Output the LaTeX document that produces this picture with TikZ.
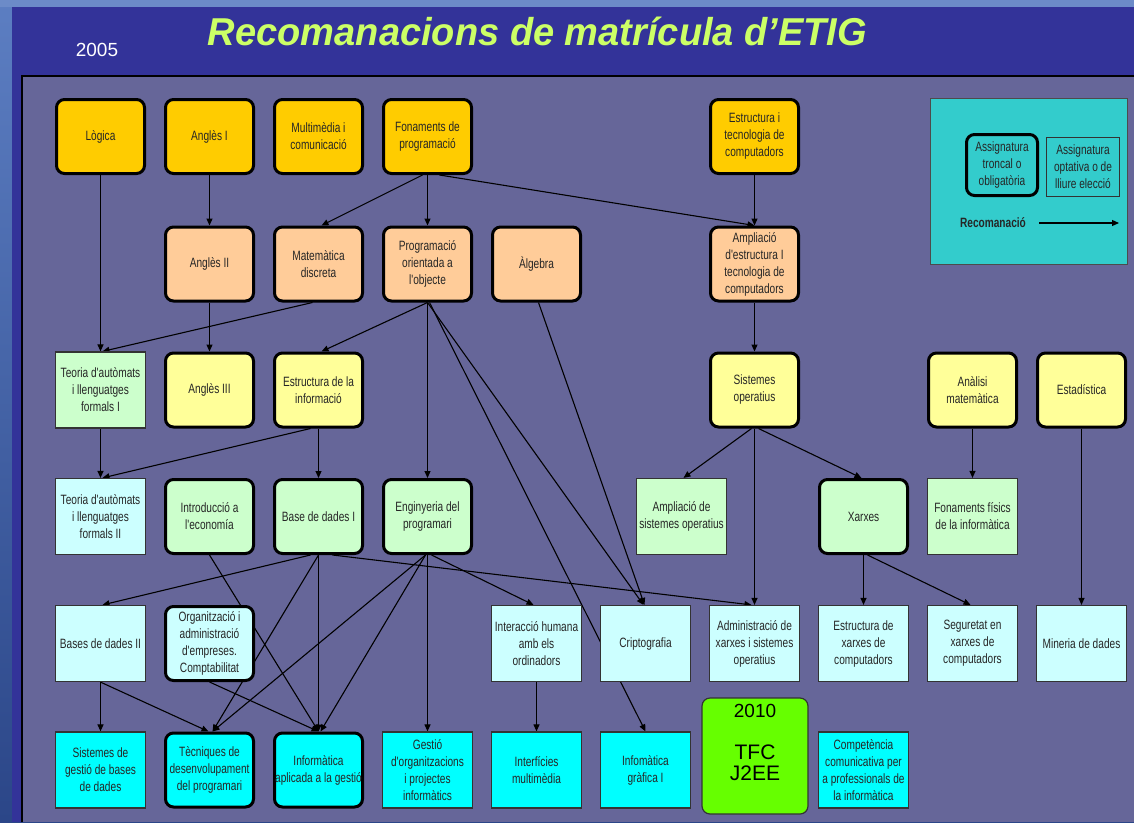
\documentclass[tikz,border=0pt]{standalone}
\usepackage{fontspec}
\setmainfont{Liberation Sans}
\newfontfamily\boxfont{Liberation Sans}[FakeStretch=0.75]
\usetikzlibrary{arrows.meta,calc}
\pgfdeclarelayer{bgfill}
\pgfdeclarelayer{edges}
\pgfsetlayers{bgfill,edges,main}

\definecolor{gold}{HTML}{FFCC00}
\definecolor{peach}{HTML}{FFCC99}
\definecolor{lyellow}{HTML}{FFFF99}
\definecolor{lgreen}{HTML}{CCFFCC}
\definecolor{lcyan}{HTML}{CCFFFF}
\definecolor{cyanbox}{HTML}{00FFFF}
\definecolor{limebox}{HTML}{66FF00}
\definecolor{legendteal}{HTML}{33CCCC}
\definecolor{panelcol}{HTML}{666699}
\definecolor{bandcol}{HTML}{333399}
\definecolor{titlegreen}{HTML}{CCFF66}
\definecolor{outertop}{HTML}{5C7EC2}
\definecolor{outerbot}{HTML}{2B4688}

\tikzset{
  subj/.style={minimum width=88pt, minimum height=74pt, align=center,
    font=\boxfont\fontsize{13.5}{17}\selectfont, text=black!85, inner sep=0pt},
  core/.style={subj, draw=black, line width=3pt, rounded corners=8pt},
  opt/.style={subj, draw=black!80, line width=1.2pt, minimum width=90pt, minimum height=76pt},
  arr/.style={-{Triangle[length=7pt,width=6pt]}, line width=1.1pt, black},
}

\begin{document}
\begin{tikzpicture}[x=1pt,y=-1pt]
\useasboundingbox (0,0) rectangle (1134,822);

% backgrounds
\begin{pgfonlayer}{bgfill}
  \shade[top color=outertop, bottom color=outerbot] (0,0) rectangle (1134,822);
  \fill[outertop!90!white] (0,0) rectangle (1134,7);
  \fill[bandcol] (12,7) rectangle (1134,822);
  \fill[panelcol] (22,76) rectangle (1134,822);
  \draw[black, line width=1.5pt] (22,822) -- (22,76) -- (1134,76);
\end{pgfonlayer}

% title
\node[anchor=base, text=titlegreen, inner sep=0pt] (title) at (537.5,45)
  {\resizebox{659pt}{28.5pt}{\bfseries\itshape Recomanacions de matrícula d’ETIG}};
\node[text=white, font=\fontsize{19}{19}\selectfont, inner sep=0pt] (year) at (97,50) {2005};

% row 1
\node[core, fill=gold] (logica) at (100.5,136.5) {Lògica};
\node[core, fill=gold] (ang1) at (209.5,136.5) {Anglès I};
\node[core, fill=gold] (multi) at (318.5,136.5) {Multimèdia i\\comunicació};
\node[core, fill=gold] (fon) at (427.5,136.5) {Fonaments de\\programació};
\node[core, fill=gold] (etc) at (754.5,136.5) {Estructura i\\tecnologia de\\computadors};

% row 2
\node[core, fill=peach] (ang2) at (209.5,264) {Anglès II};
\node[core, fill=peach] (mat) at (318.5,264) {Matemàtica\\discreta};
\node[core, fill=peach] (poo) at (427.5,264) {Programació\\orientada a\\l'objecte};
\node[core, fill=peach] (alg) at (536.5,264) {Àlgebra};
\node[core, fill=peach] (aetc) at (754.5,264) {Ampliació\\d'estructura I\\tecnologia de\\computadors};

% row 3
\node[opt, fill=lgreen] (teo1) at (100.5,390) {Teoria d'autòmats\\i llenguatges\\formals I};
\node[core, fill=lyellow] (ang3) at (209.5,390) {Anglès III};
\node[core, fill=lyellow] (ei) at (318.5,390) {Estructura de la\\informació};
\node[core, fill=lyellow] (so) at (754.5,390) {Sistemes\\operatius};
\node[core, fill=lyellow] (anal) at (972.5,390) {Anàlisi\\matemàtica};
\node[core, fill=lyellow] (estad) at (1081.5,390) {Estadística};

% row 4
\node[opt, fill=lcyan] (teo2) at (100.5,516.5) {Teoria d'autòmats\\i llenguatges\\formals II};
\node[core, fill=lgreen] (intro) at (209.5,516.5) {Introducció a\\l'economía};
\node[core, fill=lgreen] (bd1) at (318.5,516.5) {Base de dades I};
\node[core, fill=lgreen] (eng) at (427.5,516.5) {Enginyeria del\\programari};
\node[opt, fill=lgreen] (aso) at (681.5,516.5) {Ampliació de\\sistemes operatius};
\node[core, fill=lgreen] (xar) at (863.5,516.5) {Xarxes};
\node[opt, fill=lgreen] (ffis) at (972.5,516.5) {Fonaments físics\\de la informàtica};

% row 5
\node[opt, fill=lcyan] (bd2) at (100.5,643.5) {Bases de dades II};
\node[core, fill=lcyan] (org) at (209.5,643.5) {Organització i\\administració\\d'empreses.\\Comptabilitat};
\node[opt, fill=lcyan] (inter) at (536.5,643.5) {Interacció humana\\amb els\\ordinadors};
\node[opt, fill=lcyan] (cripto) at (645.5,643.5) {Criptografia};
\node[opt, fill=lcyan] (adm) at (754.5,643.5) {Administració de\\xarxes i sistemes\\operatius};
\node[opt, fill=lcyan] (exc) at (863.5,643.5) {Estructura de\\xarxes de\\computadors};
\node[opt, fill=lcyan] (seg) at (972.5,643.5) {Seguretat en\\xarxes de\\computadors};
\node[opt, fill=lcyan] (miner) at (1081.5,643.5) {Mineria de dades};

% row 6
\node[opt, fill=cyanbox] (sgbd) at (100.5,770) {Sistemes de\\gestió de bases\\de dades};
\node[core, fill=cyanbox] (tec) at (209.5,770) {Tècniques de\\desenvolupament\\del programari};
\node[core, fill=cyanbox] (infap) at (318.5,770) {Informàtica\\aplicada a la gestió};
\node[opt, fill=cyanbox] (gest) at (427.5,770) {Gestió\\d'organitzacions\\i projectes\\informàtics};
\node[opt, fill=cyanbox] (interf) at (536.5,770) {Interfícies\\multimèdia};
\node[opt, fill=cyanbox] (igraf) at (645.5,770) {Infomàtica\\gràfica I};
\node[draw=black!80, line width=1.2pt, rounded corners=8pt, fill=limebox,
      minimum width=106pt, minimum height=116pt, inner sep=0pt] (tfc) at (755,756) {};
\node[inner sep=0pt, font=\fontsize{19}{19}\selectfont, anchor=base] (tfcyear) at (755,717) {2010};
\node[inner sep=0pt, font=\fontsize{21}{21}\selectfont, anchor=base] (tfcname) at (755,759) {TFC};
\node[inner sep=0pt, font=\fontsize{21}{21}\selectfont, anchor=base] (tfctech) at (755,780) {J2EE};
\node[opt, fill=cyanbox] (comp) at (863.5,770) {Competència\\comunicativa per\\a professionals de\\la informàtica};

% legend
\node[draw=black!70, line width=1pt, fill=legendteal, minimum width=197pt, minimum height=166pt,
      inner sep=0pt] (legend) at (1028.5,181) {};
\node[core, fill=legendteal, minimum width=71pt, minimum height=61pt] (lgcore) at (1002,165) {Assignatura\\troncal o\\obligatòria};
\node[opt, fill=legendteal, minimum width=73pt, minimum height=59pt] (lgopt) at (1083,167) {Assignatura\\optativa o de\\lliure elecció};
\node[font=\boxfont\fontsize{13.5}{17}\selectfont\bfseries, text=black!85, inner sep=0pt] (lgrec) at (993,223) {Recomanació};
\coordinate (lgA) at (1039,223);
\coordinate (lgB) at (1119,223);
\draw[arr] (lgA) -- (lgB);

% edges
\begin{pgfonlayer}{edges}
  \draw[arr] (logica.south) -- (teo1.north);
  \draw[arr] (ang1.south) -- (ang2.north);
  \draw[arr] ($(fon.south)+(-5,0)$) -- ($(mat.north)+(3,0)$);
  \draw[arr] (fon.south) -- (poo.north);
  \draw[arr] ($(fon.south)+(12,0)$) -- (aetc.north);
  \draw[arr] (etc.south) -- (aetc.north);
  \draw[arr] (ang2.south) -- (ang3.north);
  \draw[arr] ($(mat.south)+(-6,0)$) -- ($(teo1.north)+(2,0)$);
  \draw[arr] (poo.south) -- ($(ei.north)+(3,0)$);
  \draw[arr] (poo.south) -- (eng.north);
  \draw[arr] (poo.south) -- ($(cripto.north)+(-2,0)$);
  \draw[arr] ($(poo.south)+(2,0)$) -- (igraf.north);
  \draw[arr] ($(alg.south)+(2,0)$) -- ($(cripto.north)+(-1,0)$);
  \draw[arr] (aetc.south) -- (so.north);
  \draw[arr] ($(so.south)+(-3,0)$) -- ($(aso.north)+(2,0)$);
  \draw[arr] ($(so.south)+(4,0)$) -- ($(xar.north)+(-2,0)$);
  \draw[arr] (so.south) -- (adm.north);
  \draw[arr] (anal.south) -- (ffis.north);
  \draw[arr] (estad.south) -- (miner.north);
  \draw[arr] (teo1.south) -- (teo2.north);
  \draw[arr] ($(ei.south)+(-8,0)$) -- ($(teo2.north)+(2,0)$);
  \draw[arr] (ei.south) -- (bd1.north);
  \draw[arr] (xar.south) -- (exc.north);
  \draw[arr] ($(xar.south)+(4,0)$) -- ($(seg.north)+(-2,0)$);
  \draw[arr] ($(bd1.south)+(-8,0)$) -- ($(bd2.north)+(2,0)$);
  \draw[arr] (bd1.south) -- ($(tec.north)+(3,0)$);
  \draw[arr] (bd1.south) -- (infap.north);
  \draw[arr] ($(bd1.south)+(14,0)$) -- ($(adm.north)+(-3,0)$);
  \draw[arr] ($(eng.south)+(4,0)$) -- ($(inter.north)+(-3,0)$);
  \draw[arr] (eng.south) -- (gest.north);
  \draw[arr] ($(eng.south)+(-2,0)$) -- ($(tec.north)+(3,0)$);
  \draw[arr] ($(eng.south)+(-2,0)$) -- ($(infap.north)+(2,0)$);
  \draw[arr] (intro.south) -- (infap.north);
  \draw[arr] (org.south) -- (infap.north);
  \draw[arr] (bd2.south) -- ($(tec.north)+(-1,0)$);
  \draw[arr] (bd2.south) -- (sgbd.north);
  \draw[arr] (inter.south) -- (interf.north);
\end{pgfonlayer}
\end{tikzpicture}
\end{document}
